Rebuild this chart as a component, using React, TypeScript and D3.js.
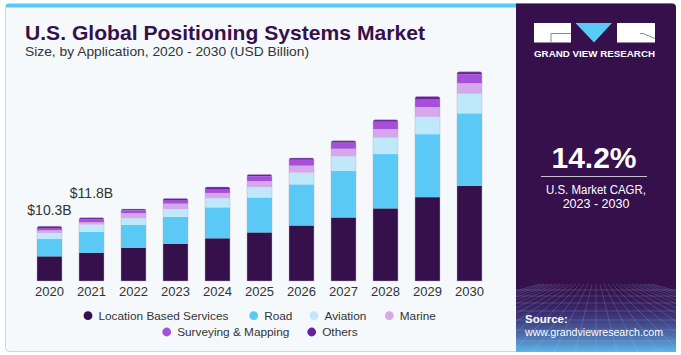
import React from 'react';
import * as d3 from 'd3';

const years = ['2020', '2021', '2022', '2023', '2024', '2025', '2026', '2027', '2028', '2029', '2030'];
const seriesNames = ['Location Based Services', 'Road', 'Aviation', 'Marine', 'Surveying & Mapping', 'Others'];
const lbs = [4.62, 5.3, 6.18, 6.93, 8.0, 9.1, 10.4, 11.9, 13.6, 15.7, 17.8];
const road = [3.24, 3.88, 4.31, 5.11, 5.8, 6.55, 7.7, 8.75, 10.17, 11.8, 13.6];
const aviation = [1.12, 1.37, 1.25, 1.44, 1.69, 1.93, 2.19, 2.68, 3.05, 3.24, 3.65];
const marine = [0.5, 0.45, 0.94, 1.0, 1.0, 1.12, 1.31, 1.44, 1.63, 1.81, 1.97];
const surveying = [0.37, 0.56, 0.5, 0.69, 0.75, 0.94, 1.12, 1.18, 1.37, 1.5, 1.69];
const others = [0.4, 0.3, 0.3, 0.3, 0.37, 0.3, 0.32, 0.32, 0.37, 0.5, 0.47];
const valueLabels = ['$10.3B', '$11.8B'];
const colors = ['#36104a', '#5bc9f6', '#bfe9fa', '#d4a8ea', '#a64fd8', '#6b1f9c'];

const FONT = '"Liberation Sans", Arial, sans-serif';

export default function App() {
  const seriesValues = [lbs, road, aviation, marine, surveying, others];
  const rows = years.map((y, i) => {
    const r: any = { year: y };
    seriesNames.forEach((s, k) => (r[s] = seriesValues[k][i]));
    return r;
  });
  const stacked = d3.stack<any>().keys(seriesNames)(rows);

  const x = d3.scaleBand<string>().domain(years).range([20, 499]).padding(17 / 42);
  const y = d3.scaleLinear().domain([0, 40]).range([281, 281 - 40 * 5.34]);
  const bw = x.bandwidth();

  const topPath = (x0: number, y0: number, y1: number, w: number) => {
    const r = Math.min(2, (y1 - y0));
    return `M${x0},${y1}V${y0 + r}Q${x0},${y0} ${x0 + r},${y0}H${x0 + w - r}Q${x0 + w},${y0} ${x0 + w},${y0 + r}V${y1}Z`;
  };

  const legendRow1 = [
    { k: 0, cx: 88 },
    { k: 1, cx: 253.7 },
    { k: 2, cx: 314 },
    { k: 3, cx: 389.3 },
  ];
  const legendRow2 = [
    { k: 4, cx: 166.7 },
    { k: 5, cx: 311.7 },
  ];

  // perspective grid in panel bottom
  const gridH = [290, 296, 303, 311, 320, 330, 341, 353];
  const vx = 596;
  const gridV = d3.range(-14, 15).map((i) => i);

  return (
    <svg width={681} height={355} style={{ position: 'absolute', left: 0, top: 0 }}>
      <defs>
        <linearGradient id="pg" x1="0" y1="0" x2="0" y2="1">
          <stop offset="0" stopColor="#36104a" stopOpacity={0} />
          <stop offset="0.45" stopColor="#3e3e88" stopOpacity={0.6} />
          <stop offset="1" stopColor="#5fb6ea" stopOpacity={1} />
        </linearGradient>
        <clipPath id="pc">
          <rect x={516} y={280} width={160} height={72} />
        </clipPath>
      </defs>
      <rect x={0} y={0} width={681} height={355} fill="#ffffff" />
      <rect x={5.5} y={3.5} width={670} height={348} rx={4} fill="#f5f9fc" stroke="#cfd4d9" />
      <rect x={6} y={4} width={511} height={3.5} fill="#5bc9f6" />
      <path d="M516,3.5H672a4,4 0 0 1 4,4V348a4,4 0 0 1 -4,4H516Z" fill="#36104a" />
      <g clipPath="url(#pc)">
        <rect x={516} y={280} width={160} height={72} fill="url(#pg)" />
        {gridH.map((gy, i) => (
          <line key={'h' + i} x1={516} x2={676} y1={gy} y2={gy} stroke="#9fd0f4" strokeOpacity={0.35} strokeWidth={0.6} />
        ))}
        {gridV.map((i) => (
          <line key={'v' + i} x1={vx + i * 4} y1={284} x2={vx + i * 22} y2={356} stroke="#9fd0f4" strokeOpacity={0.35} strokeWidth={0.6} />
        ))}
      </g>

      {/* Title */}
      <text x={25} y={40} fontFamily={FONT} fontWeight="bold" fontSize={21} fill="#36104a" textLength={400} lengthAdjust="spacingAndGlyphs">
        U.S. Global Positioning Systems Market
      </text>
      <text x={25} y={56} fontFamily={FONT} fontSize={13} fill="#333333" textLength={284} lengthAdjust="spacingAndGlyphs">
        Size, by Application, 2020 - 2030 (USD Billion)
      </text>

      {/* Logo */}
      <rect x={534} y={23} width={37} height={19.5} fill="#ffffff" />
      <path d="M551,42.5V33.5H571" fill="none" stroke="#8a8a9a" strokeWidth={1} />
      <path d="M575.5,23H612L594,42.5Z" fill="#5bc9f6" />
      <rect x={617} y={23} width={38} height={19.5} fill="#ffffff" />
      <path d="M640,33.5H643L655,38.5" fill="none" stroke="#8a8a9a" strokeWidth={1} />
      <text x={594.5} y={56.5} textAnchor="middle" fontFamily={FONT} fontWeight="bold" fontSize={9} fill="#ffffff" textLength={121} lengthAdjust="spacingAndGlyphs">
        GRAND VIEW RESEARCH
      </text>

      {/* CAGR */}
      <text x={594} y={168} textAnchor="middle" fontFamily={FONT} fontWeight="bold" fontSize={30} fill="#ffffff">
        14.2%
      </text>
      <line x1={541} x2={647} y1={176.5} y2={176.5} stroke="#c8c0d0" strokeWidth={1} />
      <text x={596} y={194} textAnchor="middle" fontFamily={FONT} fontSize={12.5} fill="#ffffff" textLength={100} lengthAdjust="spacingAndGlyphs">
        U.S. Market CAGR,
      </text>
      <text x={596} y={208} textAnchor="middle" fontFamily={FONT} fontSize={12.5} fill="#ffffff">
        2023 - 2030
      </text>

      {/* Source */}
      <text x={525} y={323} fontFamily={FONT} fontWeight="bold" fontSize={11.5} fill="#ffffff">
        Source:
      </text>
      <text x={525} y={336} fontFamily={FONT} fontSize={11} fill="#ffffff" textLength={138} lengthAdjust="spacingAndGlyphs">
        www.grandviewresearch.com
      </text>

      {/* Bars */}
      {stacked.map((layer, k) => (
        <g key={layer.key} fill={colors[k]}>
          {layer.map((d, i) => {
            const x0 = x(years[i]) as number;
            const y0 = y(d[1]);
            const y1 = y(d[0]);
            if (k === stacked.length - 1) {
              return <path key={i} d={topPath(x0, y0, y1, bw)} />;
            }
            return <rect key={i} x={x0} y={y0} width={bw} height={y1 - y0} />;
          })}
        </g>
      ))}
      {/* subtle outline */}
      {years.map((yr, i) => {
        const top = y(stacked[stacked.length - 1][i][1]);
        return (
          <path key={'o' + yr} d={topPath(x(yr) as number, top, 281, bw)} fill="none" stroke="#b9b0c8" strokeWidth={0.6} strokeOpacity={0.7} />
        );
      })}

      {/* Value labels */}
      {valueLabels.map((lab, i) => {
        const top = y(stacked[stacked.length - 1][i][1]);
        const off = i === 0 ? 11 : 20;
        return (
          <text key={lab} x={(x(years[i]) as number) + bw / 2} y={top - off} textAnchor="middle" fontFamily={FONT} fontSize={14} fill="#333333">
            {lab}
          </text>
        );
      })}

      {/* X axis labels */}
      {years.map((yr) => (
        <text key={'t' + yr} x={(x(yr) as number) + bw / 2} y={296} textAnchor="middle" fontFamily={FONT} fontSize={13} fill="#333333">
          {yr}
        </text>
      ))}

      {/* Legend */}
      {[...legendRow1.map((l) => ({ ...l, cy: 315.7 })), ...legendRow2.map((l) => ({ ...l, cy: 332 }))].map((l) => (
        <g key={'l' + l.k}>
          <circle cx={l.cx} cy={l.cy} r={4.4} fill={colors[l.k]} />
          <text x={l.cx + 10.5} y={l.cy + 4.3} fontFamily={FONT} fontSize={11.8} fill="#333333">
            {seriesNames[l.k]}
          </text>
        </g>
      ))}
    </svg>
  );
}
